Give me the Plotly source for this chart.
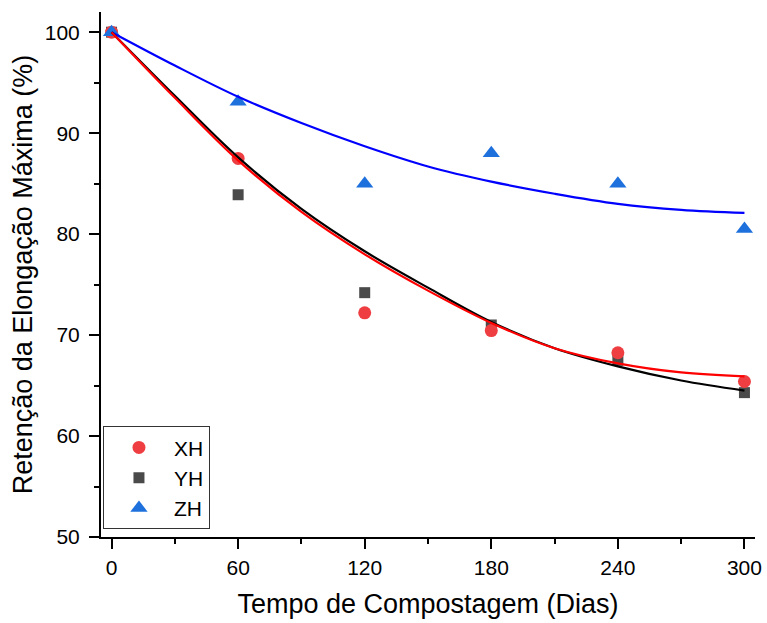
import plotly.graph_objects as go

# Measured data (days of composting vs. retention of max elongation, %)
dias = [0, 60, 120, 180, 240, 300]
xh = [100.0, 87.5, 72.2, 70.45, 68.25, 65.4]
yh = [100.0, 83.9, 74.2, 71.0, 67.5, 64.3]
zh = [100.0, 93.1, 85.0, 88.0, 85.0, 80.5]

# Fitted curves, values every 30 days
dias_fit = [0, 30, 60, 90, 120, 150, 180, 210, 240, 270, 300]
xh_fit = [100.0, 93.5, 87.3, 82.2, 78.0, 74.4, 71.2, 68.7, 67.2, 66.3, 65.9]
yh_fit = [100.0, 93.7, 87.6, 82.5, 78.3, 74.7, 71.3, 68.7, 66.9, 65.5, 64.5]
zh_fit = [100.0, 96.7, 93.6, 91.0, 88.7, 86.7, 85.2, 84.0, 83.0, 82.4, 82.1]

x_ticks = [0, 60, 120, 180, 240, 300]
y_ticks = [50, 60, 70, 80, 90, 100]

FONT = "Liberation Sans, Arial, sans-serif"

fig = go.Figure()

fig.add_trace(go.Scatter(x=dias, y=yh, mode="markers", name="YH", legendrank=2,
                         marker=dict(symbol="square", size=11, color="#4a4a4a")))
fig.add_trace(go.Scatter(x=dias, y=xh, mode="markers", name="XH", legendrank=1,
                         marker=dict(symbol="circle", size=13, color="#ef3e42")))
fig.add_trace(go.Scatter(x=dias, y=zh, mode="markers", name="ZH", legendrank=3,
                         marker=dict(symbol="triangle-up", size=15, color="#1e70dd")))

for yy, col in [(zh_fit, "#0000ff"), (yh_fit, "#000000"), (xh_fit, "#ff0000")]:
    fig.add_trace(go.Scatter(x=dias_fit, y=yy, mode="lines", showlegend=False,
                             line=dict(color=col, width=2.2, shape="spline", smoothing=1)))

axis_common = dict(showline=True, linecolor="black", linewidth=2, ticks="outside",
                   ticklen=10, tickwidth=2, tickcolor="black", showgrid=False,
                   zeroline=False, mirror=False, automargin=False,
                   tickfont=dict(family=FONT, size=21, color="black"))

fig.update_xaxes(range=[-5, 305], tickvals=x_ticks, ticktext=[str(v) for v in x_ticks],
                 ticklabelstandoff=1,
                 minor=dict(ticks="outside", ticklen=5, tickwidth=2, tickcolor="black", dtick=30, tick0=0),
                 title=dict(text="Tempo de Compostagem (Dias)", font=dict(family=FONT, size=27, color="black"),
                            standoff=16),
                 **axis_common)
fig.update_yaxes(range=[50, 102], tickvals=y_ticks, ticktext=[str(v) for v in y_ticks],
                 ticklabelstandoff=5,
                 minor=dict(ticks="outside", ticklen=5, tickwidth=2, tickcolor="black", dtick=5, tick0=50),
                 title=dict(text="Retenção da Elongação Máxima (%)", font=dict(family=FONT, size=27, color="black"),
                            standoff=4),
                 **axis_common)

fig.update_layout(
    width=767, height=623,
    margin=dict(l=101, r=12, t=12, b=86),
    plot_bgcolor="white", paper_bgcolor="white",
    font=dict(family=FONT, color="black"),
    legend=dict(x=0.003, y=0.211, xanchor="left", yanchor="top",
                bordercolor="#333333", borderwidth=1, bgcolor="white",
                font=dict(family=FONT, size=21, color="black"),
                itemwidth=60, tracegroupgap=0),
)

fig.write_html("out.html", config={"displayModeBar": False},
               post_script="document.body.style.margin='0';document.body.style.overflow='hidden';")
